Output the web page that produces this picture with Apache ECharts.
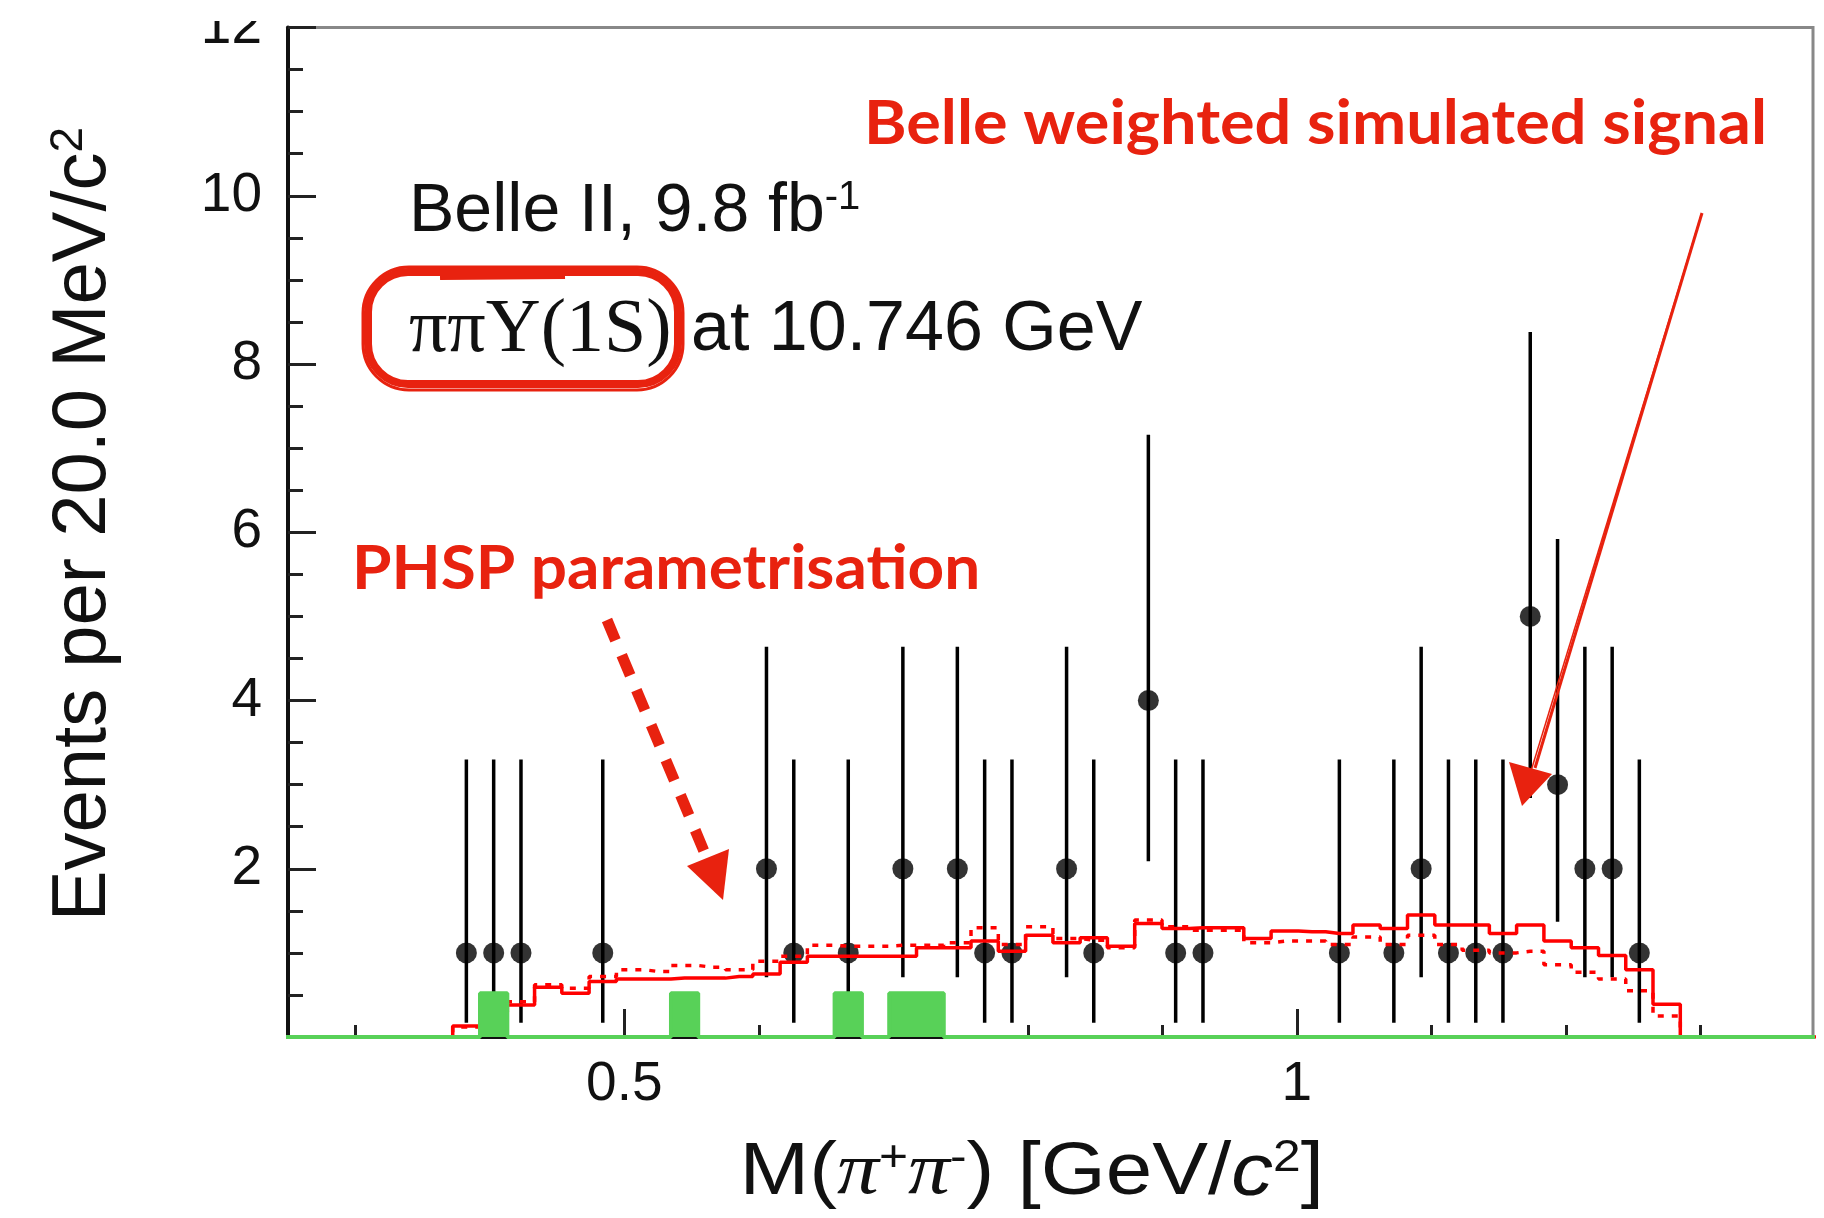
<!DOCTYPE html>
<html>
<head>
<meta charset="utf-8">
<script src="https://cdn.jsdelivr.net/npm/echarts@6/dist/echarts.min.js"></script>
<style>
  html, body { margin: 0; padding: 0; background: #fff; }
  #main { width: 1824px; height: 1218px; }
</style>
</head>
<body>
<div id="main"></div>
<script>
// bin centres of the M(pi pi) histogram [GeV/c^2]
var binCenters = [0.2406, 0.2609, 0.2812, 0.3015, 0.3218, 0.3420, 0.3623,
  0.3826, 0.4029, 0.4232, 0.4434, 0.4637, 0.4840, 0.5043, 0.5246, 0.5448, 0.5651,
  0.5854, 0.6057, 0.6260, 0.6462, 0.6665, 0.6868, 0.7071, 0.7274, 0.7476, 0.7679,
  0.7882, 0.8085, 0.8288, 0.8490, 0.8693, 0.8896, 0.9099, 0.9302, 0.9504, 0.9707,
  0.9910, 1.0113, 1.0316, 1.0518, 1.0721, 1.0924, 1.1127, 1.1330, 1.1532, 1.1735,
  1.1938, 1.2141, 1.2344, 1.2546, 1.2749, 1.2952, 1.3155, 1.3358, 1.3560, 1.3763, 1.3966];

// weighted simulated signal (solid red)
var signalHist = [0, 0, 0, 0, 0, 0, 0,
  0.13, 0.30, 0.38, 0.59, 0.52, 0.66, 0.69, 0.69, 0.70, 0.70,
  0.72, 0.75, 0.89, 0.96, 0.96, 0.96, 0.96, 1.06, 1.06, 1.14,
  1.02, 1.21, 1.12, 1.18, 1.08, 1.35, 1.29, 1.30, 1.30, 1.17,
  1.26, 1.25, 1.23, 1.33, 1.29, 1.45, 1.33, 1.33, 1.23, 1.33,
  1.14, 1.06, 0.97, 0.80, 0.39, 0, 0, 0, 0, 0, 0];

// PHSP parametrisation (dotted red)
var phspHist = [0, 0, 0, 0, 0, 0, 0,
  0.12, 0.30, 0.42, 0.62, 0.58, 0.72, 0.80, 0.78, 0.85, 0.83,
  0.80, 0.90, 0.96, 1.09, 1.08, 1.08, 1.09, 1.09, 1.12, 1.30,
  1.10, 1.31, 1.17, 1.15, 1.06, 1.39, 1.31, 1.27, 1.27, 1.12,
  1.14, 1.14, 1.10, 1.19, 1.10, 1.21, 1.10, 1.03, 1.00, 1.02,
  0.86, 0.77, 0.69, 0.55, 0.25, 0, 0, 0, 0, 0, 0];

// background (green)
var bkgHist = [0, 0, 0, 0, 0, 0, 0,
  0, 0.52, 0, 0, 0, 0, 0, 0, 0.52, 0,
  0, 0, 0, 0, 0.52, 0, 0.52, 0.52, 0, 0,
  0, 0, 0, 0, 0, 0, 0, 0, 0, 0,
  0, 0, 0, 0, 0, 0, 0, 0, 0, 0,
  0, 0, 0, 0, 0, 0, 0, 0, 0, 0, 0];

// data points
var pointX = [0.3826, 0.4029, 0.4232, 0.4840, 0.6057, 0.6260, 0.6665, 0.7071, 0.7476,
  0.7679, 0.7882, 0.8288, 0.8490, 0.8896, 0.9099, 0.9302, 1.0316, 1.0721, 1.0924,
  1.1127, 1.1330, 1.1532, 1.1735, 1.1938, 1.2141, 1.2344, 1.2546];
var pointY = [1, 1, 1, 1, 2, 1, 1, 2, 2, 1, 1, 2, 1, 4, 1, 1, 1, 1, 2, 1, 1, 1, 5, 3, 2, 2, 1];
var errLow = [0.17, 0.17, 0.17, 0.17, 0.71, 0.17, 0.17, 0.71, 0.71, 0.17, 0.17, 0.71, 0.17,
  2.09, 0.17, 0.17, 0.17, 0.17, 0.71, 0.17, 0.17, 0.17, 2.84, 1.37, 0.71, 0.71, 0.17];
var errHigh = [3.30, 3.30, 3.30, 3.30, 4.64, 3.30, 3.30, 4.64, 4.64, 3.30, 3.30, 4.64, 3.30,
  7.16, 3.30, 3.30, 3.30, 3.30, 4.64, 3.30, 3.30, 3.30, 8.38, 5.92, 4.64, 4.64, 3.30];

// axis ticks
var xMajor = [0.5, 1];
var xMinor = [0.3, 0.4, 0.6, 0.7, 0.8, 0.9, 1.1, 1.2, 1.3];

var RED = '#ff0000';
var ANNO = '#e8220f';
var GREEN = '#58d158';
var SANS = '"Liberation Sans", Arial, sans-serif';
var SERIF = '"Liberation Serif", "Times New Roman", serif';
var HAND = 'Lato, "Open Sans", sans-serif';

function pairs(xs, ys) {
  return xs.map(function (x, i) { return [x, ys[i]]; });
}

var chart = echarts.init(document.getElementById('main'));

chart.setOption({
  animation: false,
  backgroundColor: '#fff',
  textStyle: { fontFamily: SANS },
  grid: {
    left: 288, right: 11, top: 18, bottom: 181,
    show: true, borderColor: '#888', borderWidth: 3
  },
  xAxis: [{
    type: 'value', min: 0.25, max: 1.3837, position: 'bottom',
    axisLine: { onZero: false, lineStyle: { color: '#111', width: 4 } },
    axisTick: { inside: true, length: 28, customValues: xMajor, lineStyle: { color: '#222', width: 3 } },
    axisLabel: {
      customValues: xMajor, fontSize: 55, color: '#111', margin: 20,
      formatter: function (v) { return String(v); }
    },
    splitLine: { show: false }
  }, {
    type: 'value', min: 0.25, max: 1.3837, position: 'bottom',
    axisLine: { show: false },
    axisTick: { inside: true, length: 12, customValues: xMinor, lineStyle: { color: '#222', width: 3 } },
    axisLabel: { show: false },
    splitLine: { show: false }
  }],
  yAxis: {
    type: 'value', min: 0, max: 12, interval: 2,
    axisLine: { show: true, lineStyle: { color: '#111', width: 4 } },
    axisTick: { inside: true, length: 28, lineStyle: { color: '#222', width: 3 } },
    minorTick: { show: true, splitNumber: 4, length: 15, lineStyle: { color: '#222', width: 3 } },
    axisLabel: {
      fontSize: 55, color: '#111', margin: 26,
      formatter: function (v) { return v === 0 ? '' : String(v); }
    },
    splitLine: { show: false }
  },
  series: [
    {
      // error bars
      type: 'custom',
      data: pointX.map(function (x, i) { return [x, errLow[i], errHigh[i]]; }),
      encode: { x: 0, y: [1, 2] },
      renderItem: function (params, api) {
        var lo = api.coord([api.value(0), api.value(1)]);
        var hi = api.coord([api.value(0), api.value(2)]);
        return {
          type: 'line',
          shape: { x1: lo[0], y1: lo[1], x2: hi[0], y2: hi[1] },
          style: { stroke: '#000', lineWidth: 3.5 }
        };
      },
      z: 2
    },
    {
      type: 'scatter',
      data: pairs(pointX, pointY),
      symbol: 'circle',
      symbolSize: 21,
      itemStyle: { color: '#000' },
      z: 3
    },
    {
      type: 'line',
      step: 'middle',
      data: pairs(binCenters, phspHist),
      symbol: 'none',
      lineStyle: { color: RED, width: 3.5, type: [6, 8] },
      z: 4
    },
    {
      type: 'line',
      step: 'middle',
      data: pairs(binCenters, signalHist),
      symbol: 'none',
      lineStyle: { color: RED, width: 3.5 },
      z: 5
    },
    {
      type: 'line',
      step: 'middle',
      data: pairs(binCenters, bkgHist),
      symbol: 'none',
      lineStyle: { color: GREEN, width: 4 },
      areaStyle: { color: GREEN, opacity: 1 },
      z: 6
    }
  ],
  graphic: [
    // top of the "12" label is cut off in the original
    { type: 'rect', shape: { x: 150, y: 0, width: 134, height: 21 }, style: { fill: '#fff' }, z: 100 },
    {
      type: 'text', x: 84, y: 524, rotation: Math.PI / 2, z: 100,
      style: {
        text: '{a|Events per 20.0 MeV/c}{s|2}',
        align: 'center', verticalAlign: 'middle',
        rich: {
          a: { fontSize: 76, fontFamily: SANS, fill: '#111' },
          s: { fontSize: 46, fontFamily: SANS, fill: '#111', verticalAlign: 'top' }
        }
      }
    },
    {
      type: 'text', x: 1324, y: 1174, scaleX: 1.13, z: 100,
      style: {
        text: '{a|M(}{i|π}{s|+}{i|π}{s|-}{a|) [GeV/}{c|c}{s|2}{a|]}',
        align: 'right', verticalAlign: 'middle',
        rich: {
          a: { fontSize: 74, fontFamily: SANS, fill: '#111' },
          i: { fontSize: 74, fontFamily: SERIF, fontStyle: 'italic', fill: '#111' },
          c: { fontSize: 74, fontFamily: SANS, fontStyle: 'italic', fill: '#111' },
          s: { fontSize: 44, fontFamily: SANS, fill: '#111', verticalAlign: 'top' }
        }
      }
    },
    {
      type: 'text', x: 409, y: 212, z: 100,
      style: {
        text: '{a|Belle II, 9.8 fb}{s|-1}',
        align: 'left', verticalAlign: 'middle',
        rich: {
          a: { fontSize: 68, fontFamily: SANS, fill: '#111' },
          s: { fontSize: 40, fontFamily: SANS, fill: '#111', verticalAlign: 'top' }
        }
      }
    },
    {
      type: 'text', x: 409, y: 331, z: 100,
      style: {
        text: '{g|ππΥ(1S)}{a| at 10.746 GeV}',
        align: 'left', verticalAlign: 'middle',
        rich: {
          g: { fontSize: 76, fontFamily: SERIF, fill: '#111' },
          a: { fontSize: 70, fontFamily: SANS, fill: '#111' }
        }
      }
    },
    // hand drawn box round the final state
    { type: 'rect', shape: { x: 368, y: 272, width: 310, height: 112, r: 40 }, style: { fill: 'none', stroke: ANNO, lineWidth: 8 }, z: 101 },
    { type: 'rect', shape: { x: 363, y: 267, width: 320, height: 123, r: 46 }, style: { fill: 'none', stroke: ANNO, lineWidth: 3 }, z: 101 },
    { type: 'line', shape: { x1: 440, y1: 274, x2: 565, y2: 273 }, style: { stroke: ANNO, lineWidth: 12 }, z: 101 },
    {
      type: 'text', x: 864, y: 124, scaleX: 1.045, z: 100,
      style: { text: 'Belle weighted simulated signal', font: 'bold 62px ' + HAND, fill: ANNO, align: 'left', verticalAlign: 'middle' }
    },
    {
      type: 'text', x: 352, y: 569, scaleX: 1.03, z: 100,
      style: { text: 'PHSP parametrisation', font: 'bold 62px ' + HAND, fill: ANNO, align: 'left', verticalAlign: 'middle' }
    },
    // dashed arrow
    { type: 'line', shape: { x1: 607, y1: 620, x2: 706, y2: 856 }, style: { stroke: ANNO, lineWidth: 11, lineDash: [22, 16] }, z: 101 },
    { type: 'polygon', shape: { points: [[687, 866], [729, 849], [723, 900]] }, style: { fill: ANNO }, z: 101 },
    // hand drawn arrow
    { type: 'line', shape: { x1: 1702, y1: 213, x2: 1535, y2: 768 }, style: { stroke: ANNO, lineWidth: 3 }, z: 101 },
    { type: 'line', shape: { x1: 1701, y1: 216, x2: 1531, y2: 771 }, style: { stroke: ANNO, lineWidth: 1.5 }, z: 101 },
    { type: 'polygon', shape: { points: [[1509, 762], [1552, 774], [1522, 806]] }, style: { fill: ANNO }, z: 101 }
  ]
});
</script>
</body>
</html>
